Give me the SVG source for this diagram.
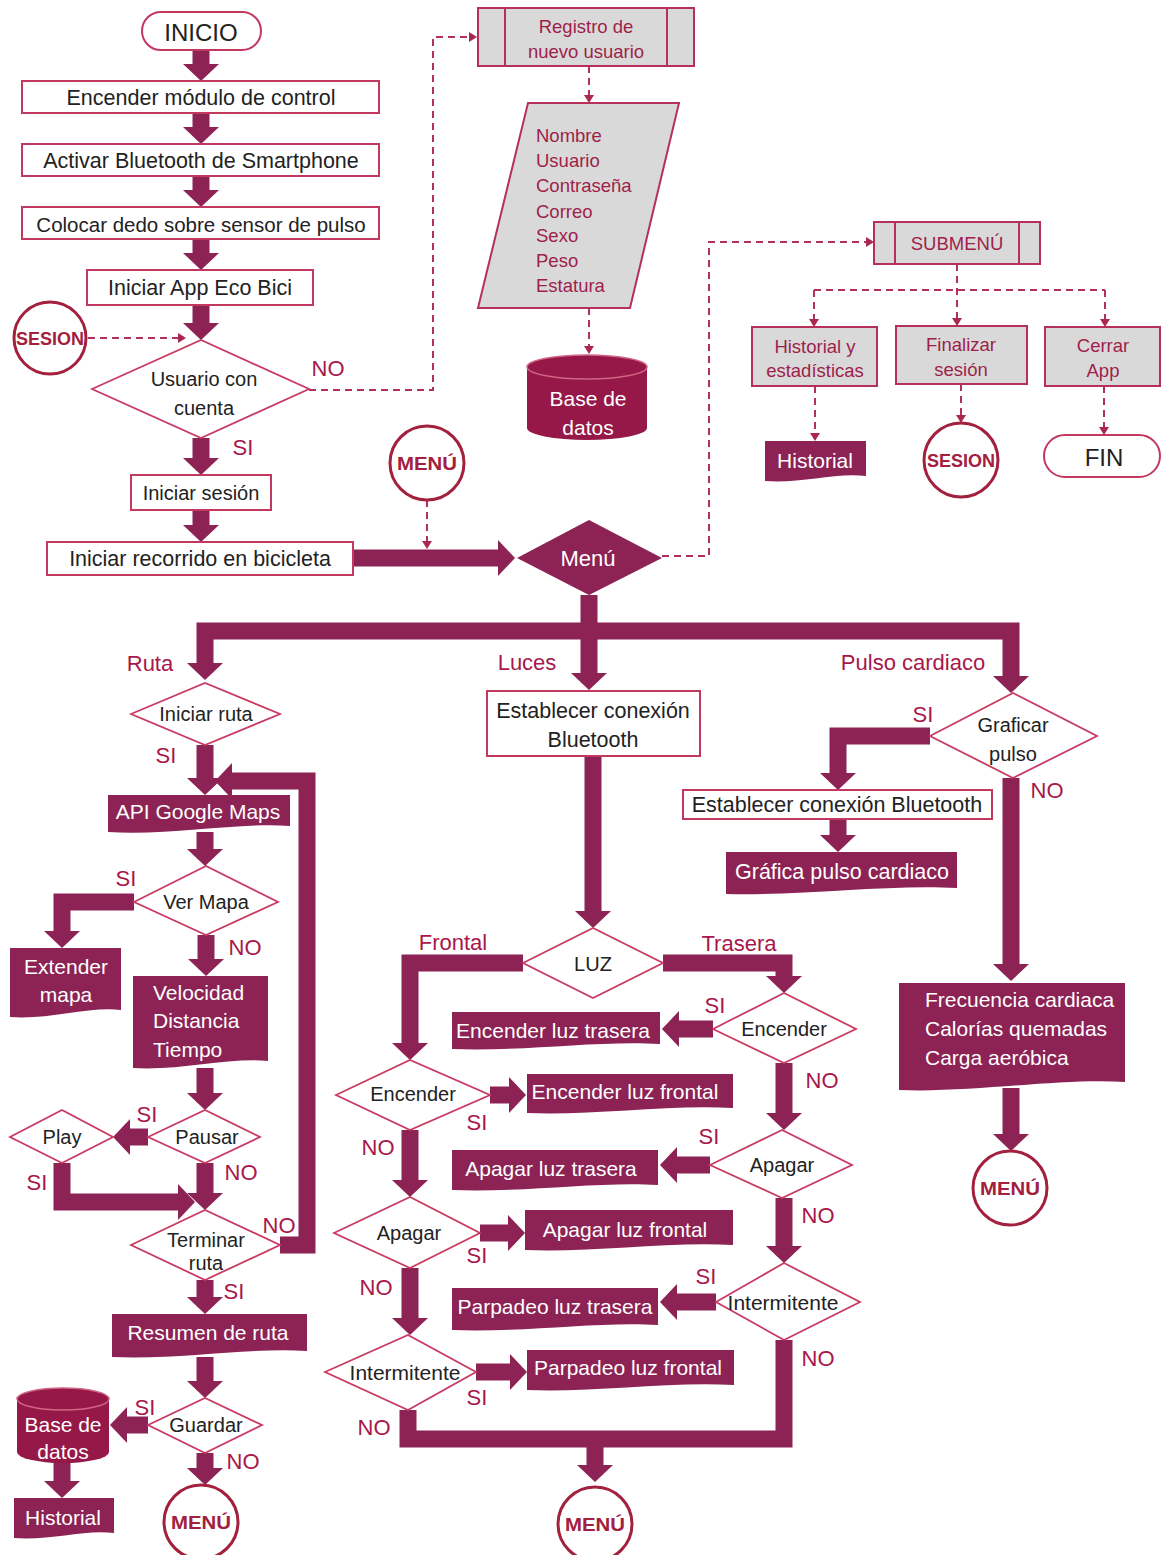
<svg xmlns="http://www.w3.org/2000/svg" width="1161" height="1555" viewBox="0 0 1161 1555">
<defs>
<marker id="ah" markerUnits="userSpaceOnUse" viewBox="0 -18 17 36" refX="0" refY="0" markerWidth="17" markerHeight="36" orient="auto"><path d="M0,-18 L17,0 L0,18 Z" fill="#8C2354"/></marker>
<marker id="dh" markerUnits="userSpaceOnUse" viewBox="0 -5 8 10" refX="0" refY="0" markerWidth="8" markerHeight="10" orient="auto"><path d="M0,-5 L8,0 L0,5 Z" fill="#A8284F"/></marker>
<style>
.box{fill:#fff;stroke:#C2385F;stroke-width:2}
.dia{fill:#fff;stroke:#C93A63;stroke-width:1.8}
.gray{fill:#D9D9D9;stroke:#B5315A;stroke-width:2}
.doc{fill:#8C2354}
.db{fill:#961848}
.circ{fill:#fff;stroke:#A3203E;stroke-width:3}
.pill{fill:#fff;stroke:#C2385F;stroke-width:2}
.flow{fill:none;stroke:#8C2354;stroke-width:17;stroke-linejoin:miter;stroke-linecap:butt}
.dash{fill:none;stroke:#B03060;stroke-width:2;stroke-dasharray:7 5}
text{font-family:"Liberation Sans",Arial,sans-serif;dominant-baseline:central}
.t{font-size:20px;fill:#222;text-anchor:middle}
.tb{font-size:21.5px;fill:#222;text-anchor:middle}
.tw{font-size:21px;fill:#fff;text-anchor:middle}
.tg{font-size:18.5px;fill:#9E1F4A;text-anchor:middle}
.lbl{font-size:22px;fill:#A8174A;text-anchor:middle}
.ct{font-size:18px;font-weight:bold;fill:#A3203E;text-anchor:middle}
</style>
</defs>
<rect width="1161" height="1555" fill="#fff"/>

<g id="connectors">
<g class="flow">
<path d="M201,50 V64" marker-end="url(#ah)"/>
<path d="M201,113 V127" marker-end="url(#ah)"/>
<path d="M201,176 V190" marker-end="url(#ah)"/>
<path d="M201,239 V253" marker-end="url(#ah)"/>
<path d="M201,305 V323" marker-end="url(#ah)"/>
<path d="M201,438 V458" marker-end="url(#ah)"/>
<path d="M201,510 V525" marker-end="url(#ah)"/>
<path d="M353,558 H498" marker-end="url(#ah)"/>
<path d="M589,595 V631 H205 V663" marker-end="url(#ah)"/>
<path d="M589,631 V673" marker-end="url(#ah)"/>
<path d="M589,631 H1011 V676" marker-end="url(#ah)"/>
<path d="M930,736 H838 V773" marker-end="url(#ah)"/>
<path d="M838,819 V835" marker-end="url(#ah)"/>
<path d="M1011,778 V964" marker-end="url(#ah)"/>
<path d="M1011,1088 V1134" marker-end="url(#ah)"/>
<path d="M593,756 V911" marker-end="url(#ah)"/>
<path d="M523,963 H410 V1043" marker-end="url(#ah)"/>
<path d="M663,963 H784 V976" marker-end="url(#ah)"/>
<path d="M713,1029 H679" marker-end="url(#ah)"/>
<path d="M784,1063 V1113" marker-end="url(#ah)"/>
<path d="M710,1165 H677" marker-end="url(#ah)"/>
<path d="M784,1198 V1246" marker-end="url(#ah)"/>
<path d="M716,1302 H677" marker-end="url(#ah)"/>
<path d="M408,1410 V1439 H784 V1340"/>
<path d="M595,1439 V1465" marker-end="url(#ah)"/>
<path d="M490,1095 H509" marker-end="url(#ah)"/>
<path d="M410,1130 V1180" marker-end="url(#ah)"/>
<path d="M480,1233 H508" marker-end="url(#ah)"/>
<path d="M410,1268 V1318" marker-end="url(#ah)"/>
<path d="M476,1372 H510" marker-end="url(#ah)"/>
<path d="M205,745 V778" marker-end="url(#ah)"/>
<path d="M280,1245 H307 V781 H232" marker-end="url(#ah)"/>
<path d="M205,832 V849" marker-end="url(#ah)"/>
<path d="M134,902 H62 V931" marker-end="url(#ah)"/>
<path d="M206,935 V959" marker-end="url(#ah)"/>
<path d="M205,1068 V1093" marker-end="url(#ah)"/>
<path d="M148,1137 H130" marker-end="url(#ah)"/>
<path d="M62,1163 V1202 H178" marker-end="url(#ah)"/>
<path d="M205,1163 V1193" marker-end="url(#ah)"/>
<path d="M205,1280 V1297" marker-end="url(#ah)"/>
<path d="M205,1357 V1381" marker-end="url(#ah)"/>
<path d="M148,1425 H127" marker-end="url(#ah)"/>
<path d="M62,1463 V1481" marker-end="url(#ah)"/>
<path d="M205,1453 V1468" marker-end="url(#ah)"/>
</g>
<g class="dash">
<path d="M88,338 H178" marker-end="url(#dh)"/>
<path d="M309,390 H433 V37 H469" marker-end="url(#dh)"/>
<path d="M589,66 V95" marker-end="url(#dh)"/>
<path d="M589,308 V346" marker-end="url(#dh)"/>
<path d="M427,500 V541" marker-end="url(#dh)"/>
<path d="M662,556 H709 V242 H866" marker-end="url(#dh)"/>
<path d="M957,264 V318" marker-end="url(#dh)"/>
<path d="M814,290 H1105"/>
<path d="M814,290 V319" marker-end="url(#dh)"/>
<path d="M1105,290 V319" marker-end="url(#dh)"/>
<path d="M815,386 V433" marker-end="url(#dh)"/>
<path d="M961,384 V415" marker-end="url(#dh)"/>
<path d="M1104,386 V427" marker-end="url(#dh)"/>
</g>
<g id="labels">
<text class="lbl" x="328" y="368">NO</text>
<text class="lbl" x="243" y="447">SI</text>
<text class="lbl" x="150" y="663">Ruta</text>
<text class="lbl" x="527" y="662">Luces</text>
<text class="lbl" x="913" y="662">Pulso cardiaco</text>
<text class="lbl" x="923" y="714">SI</text>
<text class="lbl" x="1047" y="790">NO</text>
<text class="lbl" x="453" y="942">Frontal</text>
<text class="lbl" x="739" y="943">Trasera</text>
<text class="lbl" x="715" y="1005">SI</text>
<text class="lbl" x="822" y="1080">NO</text>
<text class="lbl" x="709" y="1136">SI</text>
<text class="lbl" x="818" y="1215">NO</text>
<text class="lbl" x="706" y="1276">SI</text>
<text class="lbl" x="818" y="1358">NO</text>
<text class="lbl" x="477" y="1122">SI</text>
<text class="lbl" x="378" y="1147">NO</text>
<text class="lbl" x="477" y="1255">SI</text>
<text class="lbl" x="376" y="1287">NO</text>
<text class="lbl" x="477" y="1397">SI</text>
<text class="lbl" x="374" y="1427">NO</text>
<text class="lbl" x="166" y="755">SI</text>
<text class="lbl" x="126" y="878">SI</text>
<text class="lbl" x="245" y="947">NO</text>
<text class="lbl" x="147" y="1114">SI</text>
<text class="lbl" x="241" y="1172">NO</text>
<text class="lbl" x="37" y="1182">SI</text>
<text class="lbl" x="279" y="1225">NO</text>
<text class="lbl" x="234" y="1291">SI</text>
<text class="lbl" x="145" y="1407">SI</text>
<text class="lbl" x="243" y="1461">NO</text>
</g>
</g>

<g id="inicio"><rect class="pill" x="142" y="12" width="119" height="38" rx="19"/><text class="t" x="201" y="32" style="font-size:24px">INICIO</text></g>
<g id="encender"><rect class="box" x="22" y="81" width="357" height="32"/><text class="tb" x="201" y="98">Encender módulo de control</text></g>
<g id="bluetooth"><rect class="box" x="22" y="144" width="357" height="32"/><text class="tb" x="201" y="161">Activar Bluetooth de Smartphone</text></g>
<g id="dedo"><rect class="box" x="22" y="207" width="357" height="32"/><text class="tb" x="201" y="224" style="font-size:20.5px">Colocar dedo sobre sensor de pulso</text></g>
<g id="app"><rect class="box" x="87" y="270" width="226" height="35"/><text class="tb" x="200" y="288">Iniciar App Eco Bici</text></g>
<g id="sesion1"><circle class="circ" cx="50" cy="338" r="36"/><text class="ct" x="50" y="339" textLength="68" lengthAdjust="spacingAndGlyphs">SESION</text></g>
<g id="usuario"><polygon class="dia" points="92,389 201,340 309,389 201,438"/><text class="t" x="204" y="379">Usuario con</text><text class="t" x="204" y="408">cuenta</text></g>
<g id="iniciar-sesion"><rect class="box" x="131" y="475" width="140" height="35"/><text class="t" x="201" y="493">Iniciar sesión</text></g>
<g id="recorrido"><rect class="box" x="47" y="542" width="306" height="33"/><text class="tb" x="200" y="559">Iniciar recorrido en bicicleta</text></g>
<g id="menu-c1"><circle class="circ" cx="427" cy="463" r="37"/><text class="ct" x="427" y="464" textLength="60" lengthAdjust="spacingAndGlyphs">MENÚ</text></g>

<g id="registro"><rect class="gray" x="478" y="8" width="216" height="58"/><line x1="505" y1="8" x2="505" y2="66" stroke="#B5315A" stroke-width="2"/><line x1="667" y1="8" x2="667" y2="66" stroke="#B5315A" stroke-width="2"/><text class="tg" x="586" y="26">Registro de</text><text class="tg" x="586" y="51">nuevo usuario</text></g>
<g id="datos-registro"><polygon class="gray" points="528,103 679,103 630,308 478,308"/>
<text class="tg" style="text-anchor:start" x="536" y="135">Nombre</text>
<text class="tg" style="text-anchor:start" x="536" y="160">Usuario</text>
<text class="tg" style="text-anchor:start" x="536" y="185">Contraseña</text>
<text class="tg" style="text-anchor:start" x="536" y="211">Correo</text>
<text class="tg" style="text-anchor:start" x="536" y="235">Sexo</text>
<text class="tg" style="text-anchor:start" x="536" y="260">Peso</text>
<text class="tg" style="text-anchor:start" x="536" y="285">Estatura</text></g>
<g id="db1"><path class="db" d="M527,367 V428 A60,12 0 0 0 647,428 V367 Z"/><ellipse class="db" cx="587" cy="367" rx="60" ry="12" stroke="#D06585" stroke-width="1.5"/><text class="tw" x="588" y="398">Base de</text><text class="tw" x="588" y="427">datos</text></g>

<g id="menu"><polygon points="517,558 589,520 662,558 589,595" fill="#8C2354"/><text class="tw" x="588" y="558" style="font-size:22px">Menú</text></g>

<g id="submenu"><rect class="gray" x="874" y="222" width="166" height="42"/><line x1="895" y1="222" x2="895" y2="264" stroke="#B5315A" stroke-width="2"/><line x1="1019" y1="222" x2="1019" y2="264" stroke="#B5315A" stroke-width="2"/><text class="tg" x="957" y="243">SUBMENÚ</text></g>
<g id="historial-est"><rect class="gray" x="752" y="327" width="125" height="59"/><text class="tg" x="815" y="346">Historial y</text><text class="tg" x="815" y="370">estadísticas</text></g>
<g id="finalizar"><rect class="gray" x="896" y="326" width="131" height="58"/><text class="tg" x="961" y="344">Finalizar</text><text class="tg" x="961" y="369">sesión</text></g>
<g id="cerrar"><rect class="gray" x="1045" y="327" width="115" height="59"/><text class="tg" x="1103" y="345">Cerrar</text><text class="tg" x="1103" y="370">App</text></g>
<g id="historial1"><path class="doc" d="M765,441 H866 V476 C836,472 800,484 765,481 Z"/><text class="tw" x="815" y="460">Historial</text></g>
<g id="sesion2"><circle class="circ" cx="961" cy="460" r="37"/><text class="ct" x="961" y="461" textLength="68" lengthAdjust="spacingAndGlyphs">SESION</text></g>
<g id="fin"><rect class="pill" x="1044" y="435" width="116" height="42" rx="21"/><text class="t" x="1104" y="457" style="font-size:24px">FIN</text></g>

<g id="iniciar-ruta"><polygon class="dia" points="131,714 205,683 280,714 205,745"/><text class="t" x="206" y="714">Iniciar ruta</text></g>
<g id="api"><path class="doc" d="M108,795 H290 V826 C240,822 170,836 108,832 Z"/><text class="tw" x="198" y="811">API Google Maps</text></g>
<g id="ver-mapa"><polygon class="dia" points="134,902 206,866 278,902 206,935"/><text class="t" x="206" y="902">Ver Mapa</text></g>
<g id="extender"><path class="doc" d="M10,948 H121 V1010 C90,1006 50,1020 10,1017 Z"/><text class="tw" x="66" y="966">Extender</text><text class="tw" x="66" y="994">mapa</text></g>
<g id="velocidad"><path class="doc" d="M133,976 H268 V1061 C230,1057 180,1071 133,1068 Z"/><text class="tw" style="text-anchor:start" x="153" y="992">Velocidad</text><text class="tw" style="text-anchor:start" x="153" y="1020">Distancia</text><text class="tw" style="text-anchor:start" x="153" y="1049">Tiempo</text></g>
<g id="pausar"><polygon class="dia" points="148,1137 205,1110 260,1137 205,1163"/><text class="t" x="207" y="1137">Pausar</text></g>
<g id="play"><polygon class="dia" points="10,1137 62,1110 113,1137 62,1163"/><text class="t" x="62" y="1137">Play</text></g>
<g id="terminar"><polygon class="dia" points="131,1245 205,1210 280,1245 205,1280"/><text class="t" x="206" y="1240">Terminar</text><text class="t" x="206" y="1263">ruta</text></g>
<g id="resumen"><path class="doc" d="M112,1314 H307 V1351 C250,1347 180,1360 112,1357 Z"/><text class="tw" x="208" y="1332">Resumen de ruta</text></g>
<g id="guardar"><polygon class="dia" points="148,1425 205,1398 262,1425 205,1453"/><text class="t" x="206" y="1425">Guardar</text></g>
<g id="db2"><path class="db" d="M17,1399 V1452 A46,11 0 0 0 109,1452 V1399 Z"/><ellipse class="db" cx="63" cy="1399" rx="46" ry="11" stroke="#D06585" stroke-width="1.5"/><text class="tw" x="63" y="1424">Base de</text><text class="tw" x="63" y="1451">datos</text></g>
<g id="historial2"><path class="doc" d="M14,1498 H114 V1533 C85,1529 50,1541 14,1538 Z"/><text class="tw" x="63" y="1517">Historial</text></g>
<g id="menu-c2"><circle class="circ" cx="201" cy="1522" r="37"/><text class="ct" x="201" y="1523" textLength="60" lengthAdjust="spacingAndGlyphs">MENÚ</text></g>

<g id="conexion-luces"><rect class="box" x="487" y="691" width="213" height="65"/><text class="tb" x="593" y="711">Establecer conexión</text><text class="tb" x="593" y="740">Bluetooth</text></g>
<g id="luz"><polygon class="dia" points="523,963 593,928 663,963 593,998"/><text class="t" x="593" y="964">LUZ</text></g>
<g id="enc-tr"><polygon class="dia" points="713,1029 784,993 856,1029 784,1063"/><text class="t" x="784" y="1029">Encender</text></g>
<g id="enc-luz-tr"><path class="doc" d="M452,1012 H660 V1044 C600,1040 520,1052 452,1049 Z"/><text class="tw" x="553" y="1030">Encender luz trasera</text></g>
<g id="enc-fr"><polygon class="dia" points="336,1095 410,1060 490,1095 410,1130"/><text class="t" x="413" y="1094">Encender</text></g>
<g id="enc-luz-fr"><path class="doc" d="M527,1074 H733 V1108 C670,1104 590,1116 527,1113 Z"/><text class="tw" x="625" y="1091">Encender luz frontal</text></g>
<g id="apa-tr"><polygon class="dia" points="710,1165 782,1130 852,1165 782,1198"/><text class="t" x="782" y="1165">Apagar</text></g>
<g id="apa-luz-tr"><path class="doc" d="M452,1150 H658 V1185 C600,1181 520,1193 452,1190 Z"/><text class="tw" x="551" y="1168">Apagar luz trasera</text></g>
<g id="apa-fr"><polygon class="dia" points="334,1233 410,1197 480,1233 410,1268"/><text class="t" x="409" y="1233">Apagar</text></g>
<g id="apa-luz-fr"><path class="doc" d="M525,1210 H733 V1245 C670,1241 590,1253 525,1250 Z"/><text class="tw" x="625" y="1229">Apagar luz frontal</text></g>
<g id="int-tr"><polygon class="dia" points="716,1302 784,1263 860,1302 784,1340"/><text class="t" x="783" y="1302" style="font-size:21px">Intermitente</text></g>
<g id="par-luz-tr"><path class="doc" d="M452,1288 H658 V1325 C600,1321 520,1333 452,1330 Z"/><text class="tw" x="555" y="1306">Parpadeo luz trasera</text></g>
<g id="int-fr"><polygon class="dia" points="325,1372 408,1335 476,1372 408,1410"/><text class="t" x="405" y="1372" style="font-size:21px">Intermitente</text></g>
<g id="par-luz-fr"><path class="doc" d="M527,1350 H734 V1385 C670,1381 590,1393 527,1390 Z"/><text class="tw" x="628" y="1367">Parpadeo luz frontal</text></g>
<g id="menu-c3"><circle class="circ" cx="595" cy="1524" r="37"/><text class="ct" x="595" y="1525" textLength="60" lengthAdjust="spacingAndGlyphs">MENÚ</text></g>

<g id="graficar"><polygon class="dia" points="930,736 1013,693 1097,736 1013,778"/><text class="t" x="1013" y="725">Graficar</text><text class="t" x="1013" y="754">pulso</text></g>
<g id="conexion-pulso"><rect class="box" x="683" y="790" width="309" height="29"/><text class="tb" x="837" y="805">Establecer conexión Bluetooth</text></g>
<g id="grafica"><path class="doc" d="M726,852 H957 V888 C890,884 800,896 726,894 Z"/><text class="tw" x="842" y="872" style="font-size:21.5px">Gráfica pulso cardiaco</text></g>
<g id="frecuencia"><path class="doc" d="M899,983 H1125 V1082 C1060,1078 970,1093 899,1090 Z"/><text class="tw" style="text-anchor:start" x="925" y="999">Frecuencia cardiaca</text><text class="tw" style="text-anchor:start" x="925" y="1028">Calorías quemadas</text><text class="tw" style="text-anchor:start" x="925" y="1057">Carga aeróbica</text></g>
<g id="menu-c4"><circle class="circ" cx="1010" cy="1188" r="37"/><text class="ct" x="1010" y="1189" textLength="60" lengthAdjust="spacingAndGlyphs">MENÚ</text></g>
</svg>
